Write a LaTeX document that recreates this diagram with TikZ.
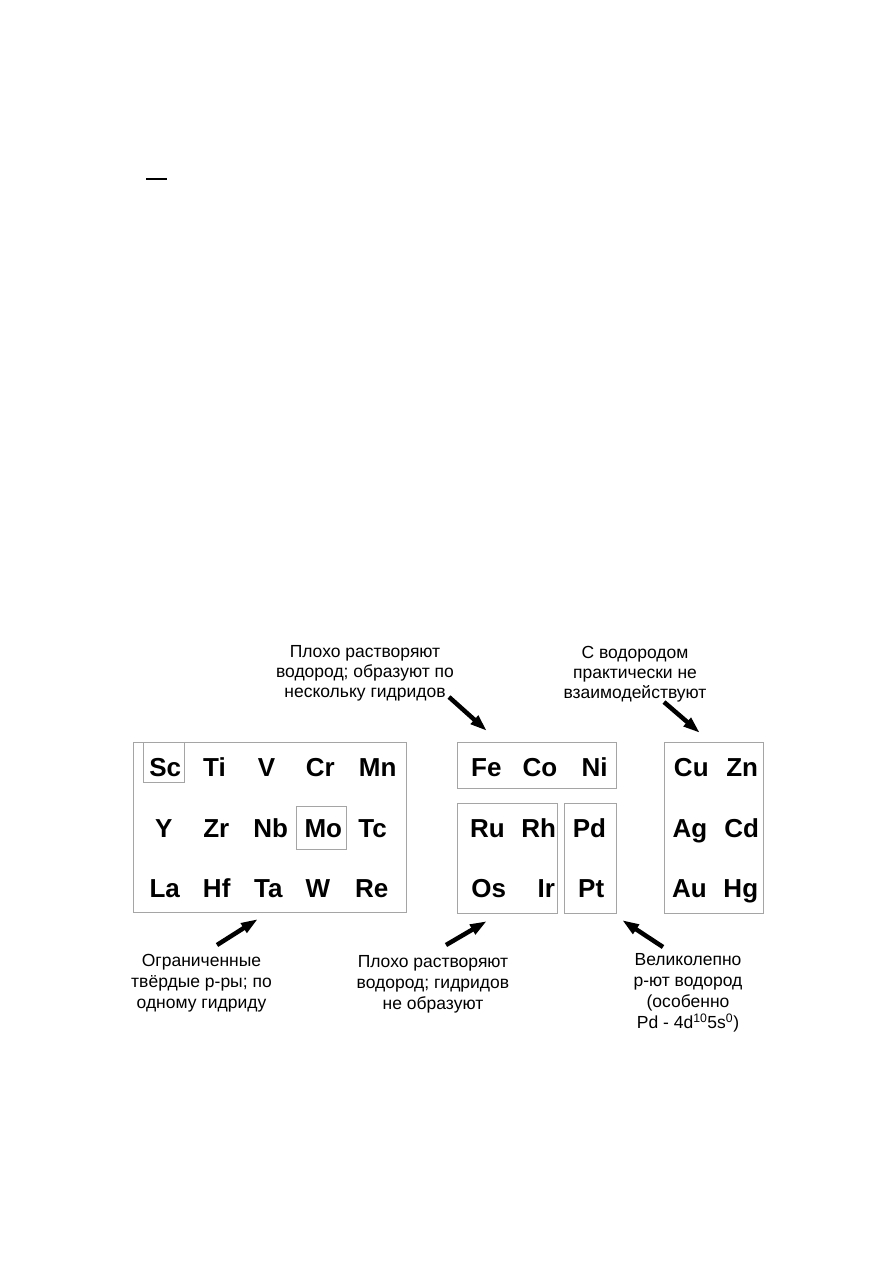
\documentclass[tikz,border=0pt]{standalone}
\usepackage{fontspec}
\setmainfont{Liberation Sans}
\usetikzlibrary{arrows.meta}
\definecolor{boxgray}{RGB}{165,165,165}
\tikzset{
  el/.style={anchor=base, inner sep=0pt, font=\fontsize{26}{30}\selectfont\bfseries},
  grp/.style={draw=boxgray, line width=0.9pt},
  lbl/.style={align=center, inner sep=0pt, font=\fontsize{17.5}{20}\selectfont},
  lblb/.style={align=center, inner sep=0pt, font=\fontsize{17.5}{21}\selectfont},
  bigarrow/.style={line width=4.5pt, -{Triangle[length=17pt,width=10.5pt]}, shorten >=0pt}
}
\begin{document}
\begin{tikzpicture}[x=1pt,y=-1pt]
\useasboundingbox (0,0) rectangle (893,1263);
% small dash at top
\coordinate (d1) at (146,179);
\coordinate (d2) at (167,179);
\draw[line width=1.2pt] (d1) -- (d2);

% group boxes
\node[grp, minimum width=273pt, minimum height=170pt, inner sep=0pt] (g1) at (269.5,827) {};
\node[grp, minimum width=41pt, minimum height=40pt, inner sep=0pt] (sc) at (163.5,762) {};
\node[grp, minimum width=50pt, minimum height=43pt, inner sep=0pt] (mo) at (321,827.5) {};
\node[grp, minimum width=159pt, minimum height=46pt, inner sep=0pt] (g2) at (536.5,765) {};
\node[grp, minimum width=100pt, minimum height=110pt, inner sep=0pt] (g3) at (507,858) {};
\node[grp, minimum width=52pt, minimum height=110pt, inner sep=0pt] (g4) at (590,858) {};
\node[grp, minimum width=99pt, minimum height=171pt, inner sep=0pt] (g5) at (713.5,827.5) {};

% elements
\node[el] (eSc) at (165.3,776.5) {Sc};
\node[el] (eTi) at (214.5,776.5) {Ti};
\node[el] (eV)  at (266.5,776.5) {V};
\node[el] (eCr) at (320.3,776.5) {Cr};
\node[el] (eMn) at (377.7,776.5) {Mn};
\node[el] (eY)  at (163.8,837.5) {Y};
\node[el] (eZr) at (216.3,837.5) {Zr};
\node[el] (eNb) at (270.8,837.5) {Nb};
\node[el] (eMo) at (323.3,837.5) {Mo};
\node[el] (eTc) at (372.5,837.5) {Tc};
\node[el] (eLa) at (164.7,897.5) {La};
\node[el] (eHf) at (216.7,897.5) {Hf};
\node[el] (eTa) at (268.3,897.5) {Ta};
\node[el] (eW)  at (318,897.5) {W};
\node[el] (eRe) at (371.7,897.5) {Re};

\node[el] (eFe) at (486.3,776.5) {Fe};
\node[el] (eCo) at (540,776.5) {Co};
\node[el] (eNi) at (594.5,776.5) {Ni};
\node[el] (eRu) at (487.5,837.5) {Ru};
\node[el] (eRh) at (538.8,837.5) {Rh};
\node[el] (ePd) at (589.5,837.5) {Pd};
\node[el] (eOs) at (488.7,897.5) {Os};
\node[el] (eIr) at (546.2,897.5) {Ir};
\node[el] (ePt) at (591.2,897.5) {Pt};

\node[el] (eCu) at (691.3,776.5) {Cu};
\node[el] (eZn) at (742.2,776.5) {Zn};
\node[el] (eAg) at (690,837.5) {Ag};
\node[el] (eCd) at (741.7,837.5) {Cd};
\node[el] (eAu) at (689.5,897.5) {Au};
\node[el] (eHg) at (740.8,897.5) {Hg};

% labels
\node[lbl] (t1) at (365,673.5) {Плохо растворяют\\водород; образуют по\\нескольку гидридов};
\node[lbl] (t2) at (635,674.5) {С водородом\\практически не\\взаимодействуют};
\node[lblb] (b1) at (201.5,983) {Ограниченные\\твёрдые р-ры; по\\одному гидриду};
\node[lblb] (b2) at (433,984.5) {Плохо растворяют\\водород; гидридов\\не образуют};
\node[lblb] (b3) at (688,993) {Великолепно\\р-ют водород\\(особенно\\Pd - 4d\textsuperscript{10}5s\textsuperscript{0})};

% arrows
\coordinate (a1s) at (449,697);  \coordinate (a1e) at (487,731);
\coordinate (a2s) at (664,702);  \coordinate (a2e) at (700,733);
\coordinate (a3s) at (217,945);  \coordinate (a3e) at (258,919);
\coordinate (a4s) at (446,945);  \coordinate (a4e) at (487,921);
\coordinate (a5s) at (663,947);  \coordinate (a5e) at (622,920);
\draw[bigarrow] (a1s) -- (a1e);
\draw[bigarrow] (a2s) -- (a2e);
\draw[bigarrow] (a3s) -- (a3e);
\draw[bigarrow] (a4s) -- (a4e);
\draw[bigarrow] (a5s) -- (a5e);
\end{tikzpicture}
\end{document}
